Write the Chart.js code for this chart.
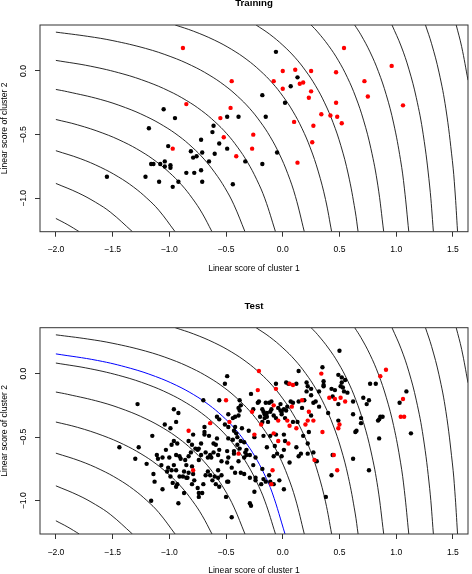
<!DOCTYPE html>
<html>
<head>
<meta charset="utf-8">
<script src="https://cdn.jsdelivr.net/npm/chart.js@4.4.1/dist/chart.umd.min.js"></script>
<style>
  html, body { margin: 0; padding: 0; background: #fff; }
  #wrap { position: relative; width: 472px; height: 574px; overflow: hidden; }
  canvas { position: absolute; left: 0; }
</style>
</head>
<body>
<div id="wrap">
  <canvas id="trainPlot" width="472" height="287" style="top:0px"></canvas>
  <canvas id="testPlot" width="472" height="287" style="top:287px"></canvas>
</div>
<script>
// axis ticks
const xTicks = [-2, -1.5, -1, -0.5, 0, 0.5, 1, 1.5];
const yTicks = [0, -0.5, -1];

// training sample: black = cluster 1, red = cluster 2
const trainBlack = [[-0.06,0.15],[0.13,-0.05],[0.07,-0.12],[-0.18,-0.19],[0.02,-0.25],[-1.05,-0.30],[-0.15,-0.36],[-0.95,-0.37],
  [-0.49,-0.36],[-0.39,-0.36],[-0.61,-0.43],[-1.18,-0.45],[-0.62,-0.48],[-0.72,-0.54],[-0.56,-0.57],[-1.01,-0.59],[-0.49,-0.61],
  [-0.81,-0.63],[-0.71,-0.64],[-0.05,-0.64],[-0.60,-0.65],[-0.79,-0.68],[-0.76,-0.67],[-0.65,-0.71],[-0.33,-0.71],[-1.16,-0.73],
  [-1.14,-0.73],[-1.08,-0.73],[-1.04,-0.71],[-0.99,-0.74],[-1.04,-0.75],[-0.99,-0.76],[-0.18,-0.73],[-0.72,-0.78],[-0.85,-0.80],
  [-0.78,-0.80],[-1.21,-0.83],[-1.55,-0.83],[-1.09,-0.87],[-0.92,-0.87],[-0.71,-0.87],[-0.44,-0.89],[-0.97,-0.91]];
const trainRed = [[-0.88,0.18],[0.54,0.18],[0.96,0.04],[0.00,0.00],[0.11,0.01],[0.25,0.00],[0.47,-0.01],[-0.08,-0.08],[-0.45,-0.08],
  [0.15,-0.10],[0.18,-0.09],[0.72,-0.08],[0.00,-0.14],[0.25,-0.16],[0.75,-0.20],[0.23,-0.21],[-0.85,-0.26],[0.47,-0.25],[1.06,-0.27],
  [-0.46,-0.29],[0.34,-0.34],[0.42,-0.35],[0.48,-0.36],[-0.55,-0.37],[0.10,-0.40],[0.52,-0.41],[0.27,-0.43],[-0.26,-0.50],[-0.52,-0.52],
  [0.26,-0.56],[-0.97,-0.61],[-0.27,-0.61],[-0.41,-0.67],[0.13,-0.72]];

// test sample
const testBlack = [
  [-1.28,-0.24],[-0.96,-0.28],[-0.92,-0.31],[-0.94,-0.38],[-1.04,-0.40],[-0.99,-0.43],[-1.15,-0.49],[-0.96,-0.53],[-0.93,-0.55],
  [-0.98,-0.56],[-1.44,-0.58],[-1.27,-0.58],[-1.03,-0.60],[-0.94,-0.64],[-1.11,-0.64],[-1.10,-0.67],[-1.06,-0.66],[-1.00,-0.66],
  [-0.91,-0.65],[-0.90,-0.67],[-1.30,-0.67],[-0.86,-0.68],[-1.20,-0.71],[-1.07,-0.72],[-1.01,-0.74],[-0.96,-0.72],[-1.02,-0.77],
  [-0.98,-0.76],[-0.94,-0.76],[-0.87,-0.77],[-1.14,-0.79],[-0.99,-0.81],[-0.91,-0.81],[-0.88,-0.81],[-0.97,-0.86],[-0.93,-0.87],
  [-0.94,-0.89],[-1.13,-0.85],[-1.06,-0.91],[-0.87,-0.94],[-1.16,-1.00],[-0.92,-1.02],[-0.85,-0.72],[-0.85,-0.82],
  [0.35,0.05],[0.36,-0.06],[0.36,-0.09],[0.14,0.02],[-0.49,-0.02],[-0.51,-0.08],[-0.06,-0.08],[0.05,-0.08],[0.21,-0.07],[0.22,-0.10],
  [0.25,-0.12],[0.32,-0.14],[0.38,-0.97],[0.32,-0.26],[0.13,-0.38],[0.25,-0.33],[0.29,-0.22],[0.27,-0.23],[0.25,-0.17],[0.19,-0.21],
  [0.14,-0.22],[0.09,-0.23],[0.03,-0.29],[0.01,-0.28],[-0.02,-0.29],[-0.04,-0.27],[-0.01,-0.30],[-0.01,-0.32],[0.09,-0.38],[0.02,-0.35],
  [-0.06,-0.48],[-0.11,-0.49],[0.01,-0.48],[0.02,-0.53],[0.12,-0.58],[0.22,-0.55],[0.23,-0.46],[0.18,-0.49],[0.16,-0.63],[0.22,-0.63],
  [0.30,-0.69],[0.06,-0.70],[0.01,-0.60],[-0.08,-0.65],[-0.05,-0.63],[-0.01,-0.65],[-0.03,-0.84],[-0.08,-0.87],[0.01,-0.91],[-0.12,-0.80],
  [-0.15,-0.85],[-0.18,-0.75],[-0.24,-0.82],[-0.24,-0.84],[-0.19,-0.87],[-0.25,-0.93],[-0.25,-0.50],[-0.36,-0.43],[-0.37,-0.53],[-0.30,-0.45],
  [-0.32,-0.60],[-0.32,-0.64],[-0.34,-0.66],[-0.33,-0.62],[-0.38,-0.59],[-0.40,-0.50],[-0.39,-0.69],[-0.43,-0.63],[-0.44,-0.52],[-0.48,-0.51],
  [-0.42,-0.78],[-0.37,-0.78],[-0.34,-0.79],[-0.29,-0.82],[-0.29,-1.02],[-0.28,-1.04],[-0.45,-1.13],[-0.50,-0.97],[-0.48,-0.85],[-0.49,-0.85],
  [-0.54,-0.80],[-0.48,-0.66],[-0.49,-0.61],[-0.54,-0.69],[-0.57,-0.64],[-0.56,-0.60],[-0.59,-0.56],[-0.61,-0.55],[-0.58,-0.51],[-0.65,-0.49],
  [-0.69,-0.48],[-0.69,-0.42],[-0.56,-0.36],[-0.44,-0.35],[-0.42,-0.42],[-0.41,-0.47],[-0.39,-0.27],[-0.37,-0.25],[-0.38,-0.29],[-0.26,-0.28],
  [-0.21,-0.22],[-0.22,-0.23],[-0.15,-0.23],[-0.12,-0.23],[-0.18,-0.28],[-0.17,-0.30],[-0.14,-0.31],[-0.16,-0.32],[-0.10,-0.28],[-0.14,-0.34],
  [-0.16,-0.35],[-0.13,-0.38],[-0.18,-0.38],[-0.14,-0.58],[-0.17,-0.49],[-0.56,-0.21],[-0.38,-0.21],[-0.70,-0.21],[-0.39,-0.33],[-0.48,-0.32],
  [-0.51,-0.40],[-0.42,-0.34],[-0.83,-0.53],[-0.80,-0.73],[-0.78,-0.84],[-0.80,-0.87],[-0.75,-0.90],[-0.74,-0.94],[-0.74,-0.97],[-0.71,-0.94],
  [-0.70,-0.87],[-0.68,-0.80],[-0.66,-0.77],[-0.64,-0.80],[-0.60,-0.81],[-0.62,-0.84],[-0.59,-0.87],[-0.56,-0.89],[-0.57,-0.82],[-0.57,-0.76],
  [-0.63,-0.66],[-0.64,-0.64],[-0.66,-0.66],[-0.68,-0.62],[-0.72,-0.64],[-0.74,-0.68],[-0.74,-0.59],[-0.72,-0.55],[-0.80,-0.56],[-0.77,-0.59],
  [-0.75,-0.60],[-0.81,-0.62],[-0.83,-0.65],[-0.83,-0.78],[-0.79,-0.79],[-0.84,-0.82],
  [-0.28,-0.16],[-0.10,-0.22],[-0.02,-0.24],[0.04,-0.26],[0.07,-0.22],[0.17,-0.27],[-0.11,-0.30],[-0.08,-0.33],[-0.06,-0.35],[-0.20,-0.34],
  [-0.58,-0.34],[-0.69,-0.46],[-0.79,-0.48],[-0.48,-0.42],[-0.43,-0.45],[0.03,-0.07],[0.12,-0.08],[0.21,-0.14],[0.36,-0.10],
  [-0.11,-0.85],[-0.17,-0.83],[-0.07,-0.57],[-0.24,-0.66],[-0.26,-0.72],[-0.29,-0.64],[-0.40,-0.56],[-0.34,-0.54],[-0.43,-0.61],[-0.45,-0.74],
  [-0.49,-0.70],[-0.61,-0.62],[0.14,-0.65],[0.27,-0.62],
  [0.50,0.18],[0.49,-0.01],[0.52,-0.03],[0.55,-0.05],[0.43,-0.12],[0.51,-0.10],[0.54,-0.14],[0.57,-0.15],[0.44,-0.18],[0.49,-0.24],
  [0.62,-0.22],[0.71,-0.19],[0.77,-0.08],[0.82,-0.08],[0.74,-0.24],[0.76,-0.21],[1.03,-0.23],[1.09,-0.14],[0.62,-0.32],[0.69,-0.35],
  [0.69,-0.39],[0.65,-0.45],[0.64,-0.46],[0.84,-0.37],[0.85,-0.36],[0.86,-0.34],[0.88,-0.34],[1.13,-0.47],[0.85,-0.51],[0.76,-0.76],
  [0.62,-0.67],[0.43,-0.80],[0.44,-0.64],[0.40,-0.31],[0.49,-0.37],[0.52,-0.07],[0.53,-0.11],[0.46,-0.13]];
const testRed = [[0.34,0.00],[0.86,-0.02],[0.91,0.03],[-0.21,0.02],[-0.22,-0.13],[-0.06,-0.12],[0.06,-0.08],[0.09,-0.09],[0.41,-0.19],
  [0.46,-0.20],[0.51,-0.19],[0.55,-0.22],[1.06,-0.20],[1.04,-0.34],[1.07,-0.34],[0.45,-0.64],[0.48,-0.76],[0.50,-0.40],[0.49,-0.43],
  [0.23,-0.30],[0.27,-0.37],[0.22,-0.37],[0.20,-0.40],[0.17,-0.21],[0.08,-0.26],[-0.04,-0.37],[0.04,-0.37],[0.06,-0.41],[0.12,-0.43],
  [-0.08,-0.47],[-0.04,-0.53],[0.05,-0.55],[0.28,-0.68],[-0.09,-0.76],[-0.10,-0.87],[-0.25,-0.48],[-0.27,-0.30],[-0.08,-0.25],
  [-0.19,-0.40],[0.35,-0.46],[-0.50,-0.21],[-0.47,-0.38],[-0.64,-0.39],[-0.83,-0.45],[-0.79,-0.76],[-0.39,-0.63]];

// blue boundary on the test panel
const boundary = [[-2,0.155],[-1.632,0.103],[-1.344,0.042],[-1.121,-0.023],[-0.939,-0.092],[-0.785,-0.166],[-0.651,-0.246],
  [-0.534,-0.333],[-0.428,-0.428],[-0.333,-0.534],[-0.246,-0.651],[-0.166,-0.785],[-0.092,-0.939],[0.02,-1.262]];

// contour lines, same in both panels (14 levels)
const contourLines = [
  [[-2,-1.158],[-1.894,-1.208],[-1.794,-1.262]],
  [[-2,-0.883],[-1.804,-0.957],[-1.65,-1.031],[-1.516,-1.111],[-1.325,-1.262]],
  [[-2,-0.626],[-1.786,-0.688],[-1.604,-0.757],[-1.45,-0.831],[-1.316,-0.911],[-1.199,-0.998],[-1.093,-1.093],[-0.949,-1.262]],
  [[-2,-0.381],[-1.809,-0.423],[-1.586,-0.488],[-1.404,-0.557],[-1.25,-0.631],[-1.116,-0.711],[-0.999,-0.798],[-0.893,-0.893],
   [-0.798,-0.999],[-0.711,-1.116],[-0.624,-1.262]],
  [[-2,-0.145],[-1.897,-0.163],[-1.609,-0.223],[-1.386,-0.288],[-1.204,-0.357],[-1.05,-0.431],[-0.916,-0.511],[-0.799,-0.598],
   [-0.693,-0.693],[-0.598,-0.799],[-0.511,-0.916],[-0.431,-1.05],[-0.333,-1.262]],
  [[-2,0.083],[-1.697,0.038],[-1.409,-0.023],[-1.186,-0.088],[-1.004,-0.157],[-0.85,-0.231],[-0.716,-0.311],[-0.599,-0.398],
   [-0.493,-0.493],[-0.398,-0.599],[-0.311,-0.716],[-0.231,-0.85],[-0.157,-1.004],[-0.064,-1.262]],
  [[-2,0.305],[-1.72,0.272],[-1.497,0.238],[-1.209,0.177],[-0.986,0.112],[-0.804,0.043],[-0.65,-0.031],[-0.516,-0.111],
   [-0.399,-0.198],[-0.293,-0.293],[-0.198,-0.399],[-0.111,-0.516],[-0.031,-0.65],[0.043,-0.804],[0.112,-0.986],[0.19,-1.262]],
  [[-0.948,0.361],[-0.786,0.312],[-0.604,0.243],[-0.45,0.169],[-0.316,0.089],[-0.199,0.002],[-0.093,-0.093],[0.002,-0.199],
   [0.089,-0.316],[0.169,-0.45],[0.243,-0.604],[0.312,-0.786],[0.377,-1.009],[0.431,-1.262]],
  [[-0.235,0.361],[-0.116,0.289],[0.001,0.202],[0.107,0.107],[0.202,0.001],[0.289,-0.116],[0.369,-0.25],[0.443,-0.404],
   [0.512,-0.586],[0.577,-0.809],[0.638,-1.097],[0.664,-1.262]],
  [[0.25,0.361],[0.307,0.307],[0.402,0.201],[0.489,0.084],[0.569,-0.05],[0.643,-0.204],[0.712,-0.386],[0.777,-0.609],
   [0.838,-0.897],[0.89,-1.262]],
  [[0.634,0.361],[0.689,0.284],[0.769,0.15],[0.843,-0.004],[0.912,-0.186],[0.977,-0.409],[1.038,-0.697],[1.072,-0.92],[1.111,-1.262]],
  [[0.963,0.361],[1.043,0.196],[1.112,0.014],[1.177,-0.209],[1.238,-0.497],[1.295,-0.903],[1.328,-1.262]],
  [[1.258,0.361],[1.312,0.214],[1.377,-0.009],[1.438,-0.297],[1.495,-0.703],[1.517,-0.926],[1.541,-1.262]],
  [[1.529,0.361],[1.577,0.191],[1.633,-0.072]]
];

const FONT = "'Liberation Sans', Arial, Helvetica, sans-serif";
const fmt = v => (v < 0 ? '\u2212' : '') + Math.abs(v).toFixed(1);
const toXY = arr => arr.map(p => ({ x: p[0], y: p[1] }));

// R-style frame, title, axis titles and rotated y tick labels
const rDecor = {
  id: 'rDecor',
  afterDraw(chart, args, opts) {
    const { ctx, chartArea: a, scales } = chart;
    ctx.save();
    ctx.strokeStyle = '#333';
    ctx.lineWidth = 1;
    ctx.strokeRect(a.left, a.top, a.right - a.left, a.bottom - a.top);

    ctx.fillStyle = '#000';
    ctx.textAlign = 'center';
    ctx.textBaseline = 'middle';
    const cx = (a.left + a.right) / 2;
    ctx.font = 'bold 9.7px ' + FONT;
    ctx.fillText(opts.title, cx, a.top - 21.4);

    ctx.font = '8.6px ' + FONT;
    ctx.fillText('Linear score of cluster 1', cx, a.bottom + 36.6);

    ctx.save();
    ctx.translate(5, (a.top + a.bottom) / 2);
    ctx.rotate(-Math.PI / 2);
    ctx.fillText('Linear score of cluster 2', 0, 0);
    ctx.restore();

    yTicks.forEach(v => {
      ctx.save();
      ctx.translate(24, scales.y.getPixelForValue(v));
      ctx.rotate(-Math.PI / 2);
      ctx.fillText(fmt(v), 0, 0);
      ctx.restore();
    });
    ctx.restore();
  }
};

function makePanel(id, title, black, red, withBoundary, padTop, xAxisHeight) {
  const datasets = [];
  contourLines.forEach(c => datasets.push({
    type: 'line', data: toXY(c), borderColor: '#111', borderWidth: 0.9,
    pointRadius: 0, tension: 0.4, fill: false, order: 3
  }));
  if (withBoundary) {
    datasets.push({
      type: 'line', data: toXY(boundary), borderColor: '#0000ff', borderWidth: 1,
      pointRadius: 0, tension: 0.4, fill: false, order: 2
    });
  }
  datasets.push({ data: toXY(black), backgroundColor: '#000', borderWidth: 0, pointRadius: 2.2, order: 1 });
  datasets.push({ data: toXY(red), backgroundColor: '#ff0000', borderWidth: 0, pointRadius: 2.2, order: 0 });

  return new Chart(document.getElementById(id), {
    type: 'scatter',
    data: { datasets },
    options: {
      responsive: false,
      animation: false,
      devicePixelRatio: 1,
      layout: { padding: { top: padTop, right: 1, left: 0, bottom: 0 } },
      plugins: { legend: { display: false }, tooltip: { enabled: false }, rDecor: { title } },
      scales: {
        x: {
          type: 'linear', min: -2.14, max: 1.633,
          afterBuildTicks: s => { s.ticks = xTicks.map(v => ({ value: v })); },
          afterFit: s => { s.height = xAxisHeight; },
          border: { display: false },
          grid: { drawOnChartArea: false, drawTicks: true, tickLength: 5, color: '#333' },
          ticks: { font: { family: FONT, size: 8.6 }, color: '#000', padding: 8, maxRotation: 0, autoSkip: false,
                   callback: v => fmt(v) }
        },
        y: {
          type: 'linear', min: -1.262, max: 0.361,
          afterBuildTicks: s => { s.ticks = yTicks.map(v => ({ value: v })); },
          afterFit: s => { s.width = 40; },
          border: { display: false },
          grid: { drawOnChartArea: false, drawTicks: true, tickLength: 5, color: '#333' },
          ticks: { display: false }
        }
      }
    },
    plugins: [rDecor]
  });
}

makePanel('trainPlot', 'Training', trainBlack, trainRed, false, 25, 55.3);
makePanel('testPlot', 'Test', testBlack, testRed, true, 40.7, 40);
</script>
</body>
</html>
